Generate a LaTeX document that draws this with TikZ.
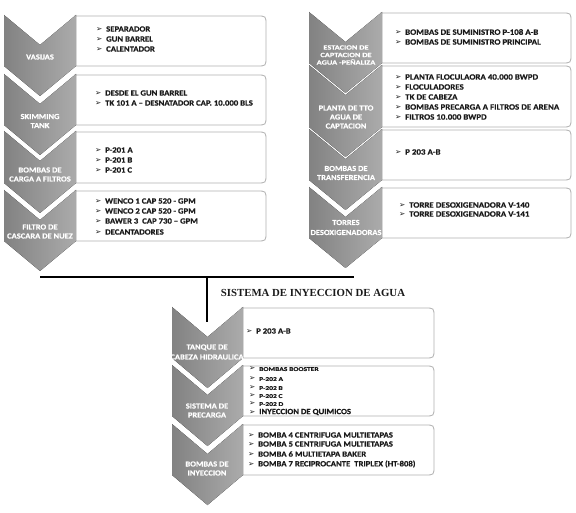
\documentclass[tikz,border=0pt]{standalone}
\usepackage{fontspec}
\setmainfont{Carlito}[FakeStretch=1.1, BoldFeatures={FakeBold=0.4}]
\newfontfamily\widefnt{Carlito}[FakeStretch=1.3, BoldFeatures={FakeBold=0.4}]
\newfontfamily\serifttl{Liberation Serif}
\newfontfamily\symfnt{DejaVu Sans}
\definecolor{chL}{HTML}{828282}
\definecolor{chR}{HTML}{ABABAB}
\definecolor{boxgray}{HTML}{B0B0B0}
\definecolor{txt}{HTML}{1A1A1A}
\tikzset{
  boxst/.style={draw=boxgray, line width=0.8pt, fill=white},
  chev/.style={left color=chL, right color=chR},
  itm/.style={anchor=west, inner sep=0pt, text=txt, font=\fontsize{7.9}{9}\selectfont\bfseries},
  itmr/.style={itm, font=\fontsize{8.1}{9}\selectfont\bfseries},
  itmsmall/.style={itm, font=\widefnt\fontsize{5.8}{7}\selectfont\bfseries},
  lbl/.style={text=white, align=center, inner sep=0pt, font=\fontsize{7.7}{9}\selectfont\bfseries},
  conn/.style={line width=2.5pt, black},
}
\newcommand{\chevbx}[4]{%
  \fill[chev] (#1,#3) -- ({(#1+#2)/2},{#3+30}) -- (#2,#3) -- (#2,#4) -- ({(#1+#2)/2},{#4+30}) -- (#1,#4) -- cycle;}
\newcommand{\rbox}[4]{%
  \draw[boxst] (#1,#3) -- ({#2-9},#3) .. controls (#2,#3) .. (#2,{#3+9}) -- (#2,{#4-9}) .. controls (#2,#4) .. ({#2-9},#4) -- (#1,#4);}
\newcommand{\bulmark}{\makebox[10pt][l]{\symfnt\fontsize{7.5}{7.5}\selectfont ➢}}
\newcommand{\itm}[4]{\node[itm] (#1) at (#2,#3) {\bulmark#4};}
\newcommand{\itmR}[4]{\node[itmr] (#1) at (#2,#3) {\bulmark#4};}
\newcommand{\itms}[4]{\node[itmsmall] (#1) at (#2,#3) {\bulmark#4};}
\begin{document}
\begin{tikzpicture}[x=1pt,y=-1pt]
\useasboundingbox (0,0) rectangle (576,513);
% ---------- left column ----------
\rbox{74}{266}{16}{66}
\rbox{74}{266}{75}{125}
\rbox{74}{266}{132}{183}
\rbox{74}{266}{191}{241}
\chevbx{4}{76}{15}{66}
\chevbx{4}{76}{74}{125}
\chevbx{4}{76}{131}{183}
\chevbx{4}{76}{190}{241}
% ---------- right column ----------
\rbox{380}{571}{13}{63}
\rbox{380}{571}{66}{127}
\rbox{380}{571}{130}{180}
\rbox{380}{571}{188}{238}
\chevbx{309}{382}{12}{63}
\chevbx{309}{382}{65}{127}
\chevbx{309}{382}{129}{180}
\chevbx{309}{382}{187}{238}
% ---------- bottom column ----------
\rbox{241}{434}{308}{358}
\rbox{241}{434}{366}{416}
\rbox{241}{434}{425}{475}
\chevbx{172}{243}{307}{358}
\chevbx{172}{243}{365}{416}
\chevbx{172}{243}{424}{475}
% ---------- connectors ----------
\coordinate (hl) at (40,277);
\coordinate (hr) at (354,277);
\coordinate (vj) at (207,277);
\coordinate (vb) at (207,322);
\draw[conn] (hl) -- (hr);
\draw[conn] (vj) -- (vb);
% ---------- title ----------
\node[inner sep=0pt, text=txt, font=\serifttl\fontsize{10.8}{12}\selectfont\bfseries] (title) at (313,293) {SISTEMA DE INYECCION DE AGUA};
% ---------- chevron labels ----------
\node[lbl] (L1) at (40,57) {VASIJAS};
\node[lbl] (L2) at (40,121) {SKIMMING\\TANK};
\node[lbl] (L3) at (40,174.5) {BOMBAS DE\\CARGA A FILTROS};
\node[lbl] (L4) at (40,231.5) {FILTRO DE\\CASCARA DE NUEZ};
\node[lbl, font=\widefnt\fontsize{6.4}{7.5}\selectfont\bfseries] (R1) at (346,55) {ESTACION DE\\CAPTACION DE\\AGUA -PEÑALIZA};
\node[lbl] (R2) at (346,117) {PLANTA DE TTO\\AGUA DE\\CAPTACION};
\node[lbl] (R3) at (346,173) {BOMBAS DE\\TRANSFERENCIA};
\node[lbl, font=\fontsize{7.7}{10}\selectfont\bfseries] (R4) at (346,227.5) {TORRES\\DESOXIGENADORAS};
\node[lbl, font=\fontsize{7.7}{10}\selectfont\bfseries] (B1) at (207,352) {TANQUE DE\\CABEZA HIDRAULICA};
\node[lbl] (B2) at (207,410.5) {SISTEMA DE\\PRECARGA};
\node[lbl] (B3) at (207,468.5) {BOMBAS DE\\INYECCION};
% ---------- box items ----------
\itm{a1}{96}{29}{SEPARADOR}
\itm{a2}{96}{39}{GUN BARREL}
\itm{a3}{96}{49}{CALENTADOR}
\itm{b1}{95}{93}{DESDE EL GUN BARREL}
\itm{b2}{95}{103}{TK 101 A – DESNATADOR CAP. 10.000 BLS}
\itm{c1}{95}{150}{P-201 A}
\itm{c2}{95}{160}{P-201 B}
\itm{c3}{95}{170}{P-201 C}
\itm{d1}{95}{201}{WENCO 1 CAP 520 - GPM}
\itm{d2}{95}{211}{WENCO 2 CAP 520 - GPM}
\itm{d3}{95}{221}{BAWER 3\ \ CAP 730 – GPM}
\itm{d4}{95}{232}{DECANTADORES}
\itmR{e1}{395}{32}{BOMBAS DE SUMINISTRO P-108 A-B}
\itmR{e2}{395}{42}{BOMBAS DE SUMINISTRO PRINCIPAL}
\itmR{f1}{395}{77}{PLANTA FLOCULAORA 40.000 BWPD}
\itmR{f2}{395}{87}{FLOCULADORES}
\itmR{f3}{395}{97}{TK DE CABEZA}
\itmR{f4}{395}{107}{BOMBAS PRECARGA A FILTROS DE ARENA}
\itmR{f5}{395}{117}{FILTROS 10.000 BWPD}
\itmR{g1}{395}{152}{P 203 A-B}
\itmR{h1}{399}{205}{TORRE DESOXIGENADORA V-140}
\itmR{h2}{399}{214}{TORRE DESOXIGENADORA V-141}
\itm{i1}{246}{331}{P 203 A-B}
\itms{j1}{249}{369}{BOMBAS BOOSTER}
\itms{j2}{249}{379}{P-202 A}
\itms{j3}{249}{388}{P-202 B}
\itms{j4}{249}{396}{P-202 C}
\itms{j5}{249}{404}{P-202 D}
\itm{j6}{249}{412}{INYECCION DE QUIMICOS}
\itm{k1}{248}{435}{BOMBA 4 CENTRIFUGA MULTIETAPAS}
\itm{k2}{248}{444}{BOMBA 5 CENTRIFUGA MULTIETAPAS}
\itm{k3}{248}{454}{BOMBA 6 MULTIETAPA BAKER}
\itm{k4}{248}{464}{BOMBA 7 RECIPROCANTE\ \ TRIPLEX (HT-808)}
\end{tikzpicture}
\end{document}
